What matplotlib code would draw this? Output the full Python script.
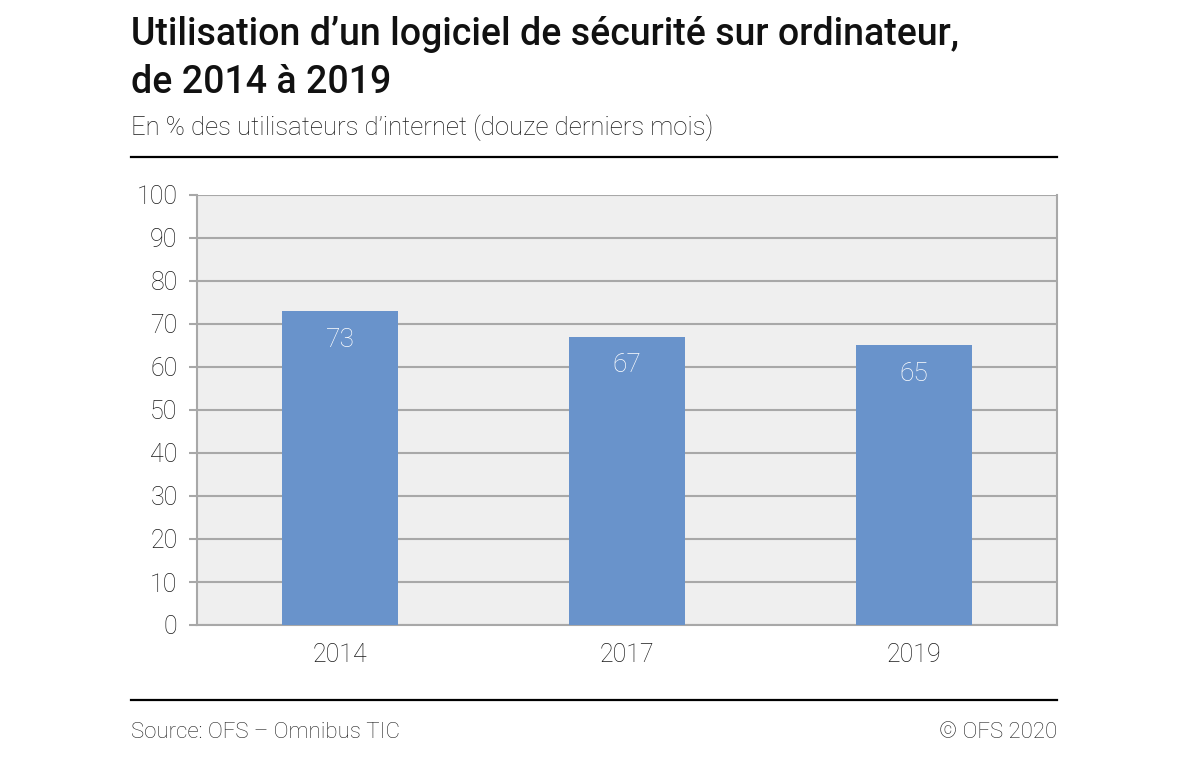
import matplotlib
matplotlib.use("Agg")
import matplotlib.pyplot as plt
from matplotlib.lines import Line2D

categories = ["2014", "2017", "2019"]
values = [73, 67, 65]
yticks = [0, 10, 20, 30, 40, 50, 60, 70, 80, 90, 100]

title = "Utilisation d’un logiciel de sécurité sur ordinateur,\nde 2014 à 2019"
subtitle = "En % des utilisateurs d’internet (douze derniers mois)"
source = "Source: OFS – Omnibus TIC"
copyright_ = "© OFS 2020"

plt.rcParams['font.family'] = ['Roboto', 'DejaVu Sans']

W, H = 1200, 769
fig = plt.figure(figsize=(W / 100, H / 100), dpi=100)
fig.patch.set_facecolor("white")

ax = fig.add_axes([197 / W, 1 - 625 / H, (1057 - 197) / W, (625 - 195) / H])
ax.set_facecolor("#efefef")

x = list(range(len(categories)))
ax.bar(x, values, width=0.405, color="#6993cb", zorder=3)
ax.set_xlim(-0.5, len(categories) - 0.5)
ax.set_ylim(0, 100)
ax.set_yticks(yticks)
ax.set_xticks(x)
ax.set_xticklabels(categories)
ax.yaxis.grid(True, color="#a8a8a8", linewidth=1.5, zorder=1)
ax.set_axisbelow(True)

for s in ["left", "right", "top", "bottom"]:
    ax.spines[s].set_color("#a8a8a8")
    ax.spines[s].set_linewidth(1.5)
ax.spines["top"].set_visible(False)

ax.tick_params(axis="y", length=6, color="#a8a8a8", width=1.5, pad=8,
               labelsize=18, labelcolor="#1a1a1a")
ax.tick_params(axis="x", length=0, pad=13, labelsize=18, labelcolor="#1a1a1a")
for lbl in ax.get_yticklabels() + ax.get_xticklabels():
    lbl.set_fontweight("light")

for xi, v in zip(x, values):
    ax.annotate(str(v), (xi, v), xytext=(0, -20.5), textcoords="offset points",
                ha="center", va="center", color="white", fontsize=19,
                fontweight="light", zorder=4)

fig.text(131 / W, 1 - 16 / H, title, ha="left", va="top", fontsize=27,
         fontweight="medium", color="#111111", linespacing=1.38)

fig.text(131 / W, 1 - 128 / H, subtitle, ha="left", va="center", fontsize=18.5,
         fontweight="light", color="#1a1a1a")

fig.add_artist(Line2D([131 / W, 1057 / W], [1 - 157 / H, 1 - 157 / H],
                      color="black", linewidth=1.6, transform=fig.transFigure))
fig.add_artist(Line2D([131 / W, 1057 / W], [1 - 700 / H, 1 - 700 / H],
                      color="black", linewidth=1.6, transform=fig.transFigure))

fig.text(131 / W, 1 - 732 / H, source, ha="left", va="center", fontsize=16,
         fontweight="light", color="#222222")
fig.text(1057 / W, 1 - 732 / H, copyright_, ha="right", va="center", fontsize=16,
         fontweight="light", color="#222222")

fig.savefig("out.png", dpi=100, facecolor="white")
